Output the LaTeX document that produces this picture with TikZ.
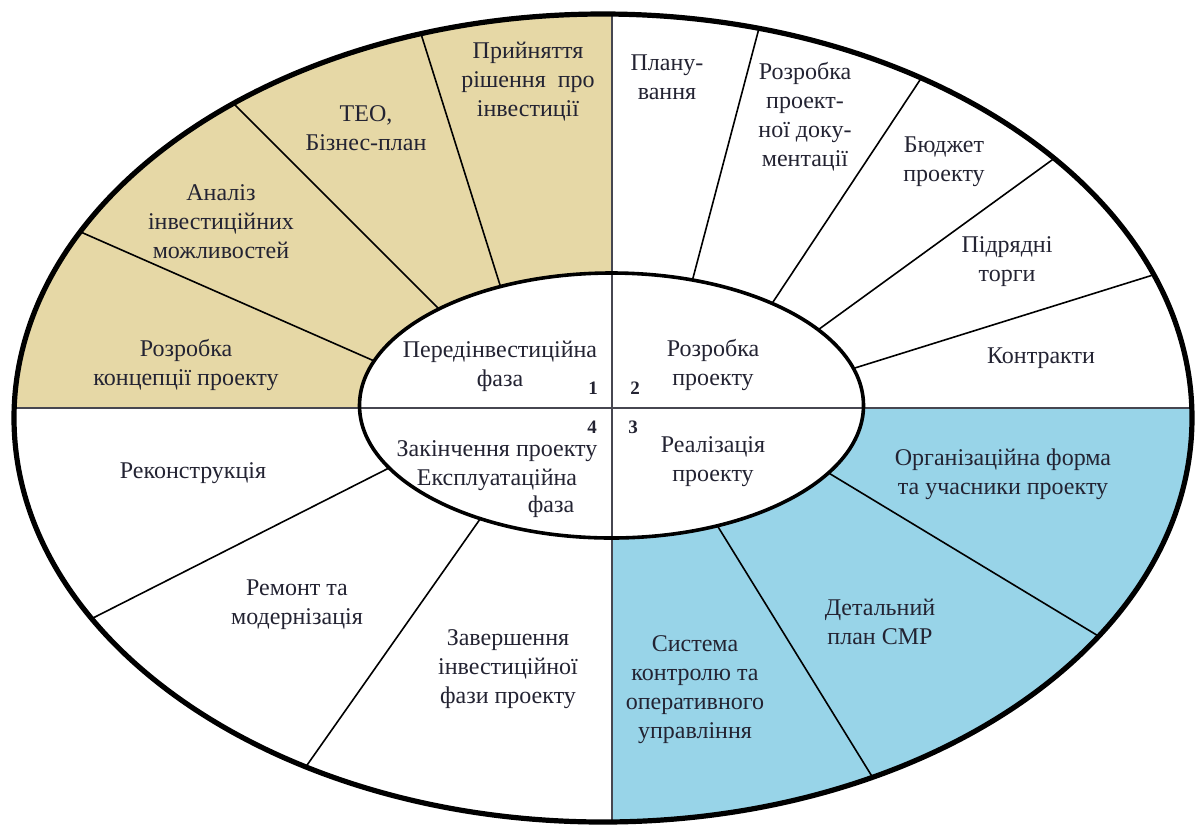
\documentclass[tikz,border=0pt]{standalone}
\usepackage{fontspec}
\setmainfont{Liberation Serif}
\definecolor{tanfill}{RGB}{230,216,166}
\definecolor{bluefill}{RGB}{152,212,232}
\definecolor{txt}{RGB}{35,35,50}
\definecolor{divider}{RGB}{70,70,80}
\begin{document}
\begin{tikzpicture}[x=0.5pt, y=-0.5pt,
  lbl/.style={align=center, text=txt, inner sep=0pt, font=\fontsize{12}{14.5}\selectfont},
  num/.style={text=txt, inner sep=0pt, font=\fontsize{9.5}{11}\selectfont\bfseries},
  sep/.style={line width=0.8pt, shorten <=-8pt, shorten >=-8pt}]
\useasboundingbox (0,0) rectangle (1196,827);
% quadrant fills
\begin{scope}
  \clip (0,0) rectangle (612,408);
  \fill[tanfill] (603,418) ellipse [x radius=589, y radius=404];
\end{scope}
\begin{scope}
  \clip (612,408) rectangle (1196,827);
  \fill[bluefill] (603,418) ellipse [x radius=589, y radius=404];
\end{scope}
% separators of the ring
\begin{scope}
  \clip (603,418) ellipse [x radius=589, y radius=404];
  \draw[sep] (83,233) -- (372,360);
  \draw[sep] (237,107) -- (437,307);
  \draw[sep] (422,37) -- (500,285);
  \draw[sep] (758,32) -- (693,278);
  \draw[sep] (920,80) -- (773,302);
  \draw[sep] (1052,160) -- (822,327);
  \draw[sep] (1153,275) -- (858,367);
  \draw[sep] (1100,637) -- (832,475);
  \draw[sep] (873,778) -- (720,530);
  \draw[sep] (93,618) -- (385,470);
  \draw[sep] (305,768) -- (478,522);
\end{scope}
\fill[white] (611.5,405.5) ellipse [x radius=252, y radius=132.5];
% phase cross
\draw[divider, line width=1pt] (14,408) -- (1192,408);
\draw[divider, line width=1pt] (612,14) -- (612,822);
% ellipses
\draw[line width=1.8pt] (611.5,405.5) ellipse [x radius=252, y radius=132.5];
\draw[line width=2.6pt] (603,418) ellipse [x radius=589, y radius=404];
% pre-investment phase
\node[lbl] (konc) at (186,365) {Розробка\\концепції проекту};
\node[lbl] (analiz) at (221,222) {Аналіз\\інвестиційних\\можливостей};
\node[lbl] (teo) at (366,128) {ТЕО,\\Бізнес-план};
\node[lbl] (rishennia) at (528,82) {Прийняття\\рішення\enspace про\\інвестиції};
% project development
\node[lbl] (planuv) at (667,77) {Плану-\\вання};
\node[lbl] (dokum) at (805,117) {Розробка\\проект-\\ної доку-\\ментації};
\node[lbl] (budzhet) at (944,162) {Бюджет\\проекту};
\node[lbl] (torhy) at (1007,262) {Підрядні\\торги};
\node[lbl] (kontrakty) at (1041,358) {Контракти};
% realisation
\node[lbl] (orhform) at (1003,474) {Організаційна форма\\та учасники проекту};
\node[lbl] (detal) at (880,622) {Детальний\\план СМР};
\node[lbl] (systema) at (695,690) {Система\\контролю та\\оперативного\\управління};
% completion
\node[lbl] (zaversh) at (508,669) {Завершення\\інвестиційної\\фази проекту};
\node[lbl] (remont) at (297,605) {Ремонт та\\модернізація};
\node[lbl] (rekonstr) at (193,473) {Реконструкція};
% phases
\node[lbl] (pered) at (500,366) {Передінвестиційна\\фаза};
\node[lbl] (rozrobka) at (713,365) {Розробка\\проекту};
\node[lbl] (realiz) at (713,462) {Реалізація\\проекту};
\node[lbl] (zakinch) at (497,466) {Закінчення проекту\\Експлуатаційна};
\node[lbl] (faza) at (551,507) {фаза};
\node[num] (n1) at (593,388) {1};
\node[num] (n2) at (635,388) {2};
\node[num] (n3) at (633,427) {3};
\node[num] (n4) at (592,427) {4};
\end{tikzpicture}
\end{document}
